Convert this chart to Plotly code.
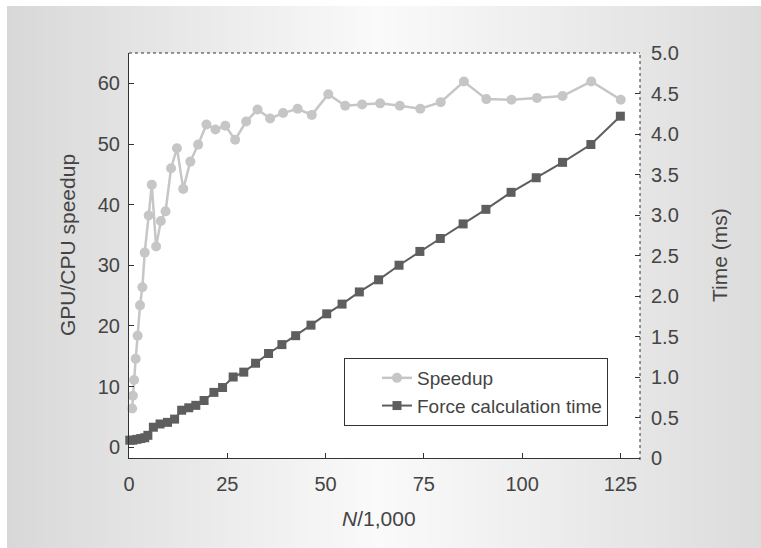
import plotly.graph_objects as go

# ---------------- data ----------------
speed_x = [0.8, 1.0, 1.3, 1.7, 2.2, 2.8, 3.4, 4.0, 5.0, 5.8, 6.9, 8.1, 9.3, 10.7, 12.2,
           13.8, 15.6, 17.6, 19.7, 22.0, 24.5, 27.0, 29.8, 32.7, 35.9, 39.2, 42.9, 46.5,
           50.7, 55.0, 59.3, 63.9, 68.9, 74.1, 79.3, 85.2, 90.9, 97.3, 103.8, 110.3,
           117.6, 125.1]
speedup = [6.4, 8.5, 11.1, 14.6, 18.4, 23.4, 26.4, 32.1, 38.2, 43.3, 33.1, 37.3, 38.9,
           46.0, 49.3, 42.6, 47.1, 49.9, 53.2, 52.4, 53.0, 50.7, 53.7, 55.7, 54.2, 55.1,
           55.8, 54.8, 58.2, 56.3, 56.5, 56.7, 56.3, 55.8, 56.9, 60.3, 57.4, 57.3, 57.6,
           57.9, 60.3, 57.3]

time_x = [0.2, 1.0, 2.0, 3.0, 4.0, 4.8, 6.2, 7.9, 9.8, 11.6, 13.4, 15.2, 17.0, 19.1,
          21.6, 23.8, 26.5, 29.2, 32.2, 35.5, 38.9, 42.4, 46.3, 50.3, 54.2, 58.6, 63.5,
          68.7, 74.0, 79.2, 85.0, 90.8, 97.2, 103.6, 110.3, 117.5, 125.0]
force_time = [0.22, 0.22, 0.23, 0.24, 0.25, 0.28, 0.38, 0.42, 0.44, 0.48, 0.59, 0.62,
              0.65, 0.71, 0.81, 0.87, 1.00, 1.06, 1.17, 1.29, 1.40, 1.51, 1.64, 1.78,
              1.90, 2.05, 2.20, 2.38, 2.55, 2.71, 2.89, 3.07, 3.28, 3.46, 3.65, 3.87, 4.22]

x_ticks = [0, 25, 50, 75, 100, 125]
y_ticks = [0, 10, 20, 30, 40, 50, 60]
y2_ticks = [0, 0.5, 1.0, 1.5, 2.0, 2.5, 3.0, 3.5, 4.0, 4.5, 5.0]
y2_ticktext = ["0", "0.5", "1.0", "1.5", "2.0", "2.5", "3.0", "3.5", "4.0", "4.5", "5.0"]

series_names = ["Speedup", "Force calculation time"]
x_title = "<i>N</i>/1,000"
y_title = "GPU/CPU speedup"
y2_title = "Time (ms)"

# ---------------- layout geometry ----------------
W, H = 761, 548
# plot area in window pixels: x 129..640, y 53..458
L, R, T, B = 129, W - 640, 53, H - 458
PW, PH = W - L - R, H - T - B
FONT = "Liberation Sans"
TXT = "#444444"
AX = "#333333"


def px_x(p):
    """window pixel x -> paper fraction"""
    return (p - L) / PW


def px_y(p):
    """window pixel y -> paper fraction"""
    return (H - B - p) / PH


fig = go.Figure()

fig.add_trace(go.Scatter(
    x=speed_x, y=speedup, name=series_names[0], mode="lines+markers",
    line=dict(color="#c6c6c6", width=2.5),
    marker=dict(symbol="circle", size=10, color="#c6c6c6"),
    cliponaxis=False, yaxis="y"))

fig.add_trace(go.Scatter(
    x=time_x, y=force_time, name=series_names[1], mode="lines+markers",
    line=dict(color="#5e5e5e", width=2),
    marker=dict(symbol="square", size=9, color="#5e5e5e"),
    cliponaxis=False, yaxis="y2"))

shapes = []
# gradient background panel (vertical strips), white border 7px left / 6px top
panel_left, panel_top = 7, 6
step = 6
p = panel_left
while p < W:
    q = min(p + step, W)
    mid = (p + q) / 2
    if mid <= 380:
        v = 216 + (250 - 216) * (mid - panel_left) / (380 - panel_left)
    else:
        v = 250 - (250 - 220) * (mid - 380) / (W - 380)
    v = int(round(v))
    shapes.append(dict(type="rect", xref="paper", yref="paper",
                       x0=px_x(p), x1=px_x(q + 0.6), y0=px_y(H + 2), y1=px_y(panel_top),
                       fillcolor=f"rgb({v},{v},{v})", line=dict(width=0), layer="below"))
    p = q
# white plotting area
shapes.append(dict(type="rect", xref="paper", yref="paper", x0=0, x1=1, y0=0, y1=1,
                   fillcolor="white", line=dict(width=0), layer="below"))
# dotted top and right frame
shapes.append(dict(type="line", xref="paper", yref="paper", x0=0, x1=1, y0=1, y1=1,
                   line=dict(color=AX, width=1, dash="dot")))
shapes.append(dict(type="line", xref="paper", yref="paper", x0=1, x1=1, y0=-0.005, y1=1,
                   line=dict(color=AX, width=1, dash="dot")))

annotations = [
    dict(text=x_title, xref="paper", yref="paper", x=px_x(379), y=px_y(518),
         xanchor="center", yanchor="middle", showarrow=False,
         font=dict(family=FONT, size=21, color=TXT)),
    dict(text=y_title, xref="paper", yref="paper", x=px_x(67), y=px_y(245),
         xanchor="center", yanchor="middle", textangle=-90, showarrow=False,
         font=dict(family=FONT, size=21, color=TXT)),
    dict(text=y2_title, xref="paper", yref="paper", x=px_x(719), y=px_y(255),
         xanchor="center", yanchor="middle", textangle=-90, showarrow=False,
         font=dict(family=FONT, size=21, color=TXT)),
]

tickfont = dict(family=FONT, size=20, color=TXT)

fig.update_layout(
    width=W, height=H,
    margin=dict(l=L, r=R, t=T, b=B, pad=0),
    paper_bgcolor="white", plot_bgcolor="rgba(0,0,0,0)",
    font=dict(family=FONT, color=TXT),
    shapes=shapes, annotations=annotations,
    xaxis=dict(range=[0, 130], tickvals=x_ticks, ticks="inside", ticklen=5,
               tickcolor=AX, showline=True, linecolor=AX, linewidth=1,
               showgrid=False, zeroline=False, tickfont=tickfont,
               ticklabelstandoff=8),
    yaxis=dict(range=[-1.76, 65.0], tickvals=y_ticks, ticks="inside", ticklen=5,
               tickcolor=AX, showline=True, linecolor=AX, linewidth=1,
               showgrid=False, zeroline=False, tickfont=tickfont,
               ticklabelstandoff=4),
    yaxis2=dict(range=[0, 5.0], tickvals=y2_ticks, ticktext=y2_ticktext,
                overlaying="y", side="right", ticks="inside", ticklen=5,
                tickcolor=AX, showline=False, showgrid=False, zeroline=False,
                tickfont=tickfont, ticklabelstandoff=10),
    legend=dict(x=px_x(344), y=px_y(358), xanchor="left", yanchor="top",
                bgcolor="white", bordercolor=AX, borderwidth=1,
                font=dict(family=FONT, size=19, color=TXT), indentation=32),
    showlegend=True,
)

# remove the default 8px page margin so the figure fills the window exactly
fig.write_html(
    "out.html",
    config={"displayModeBar": False},
    post_script="document.body.style.margin='0';document.body.style.overflow='hidden';",
)
